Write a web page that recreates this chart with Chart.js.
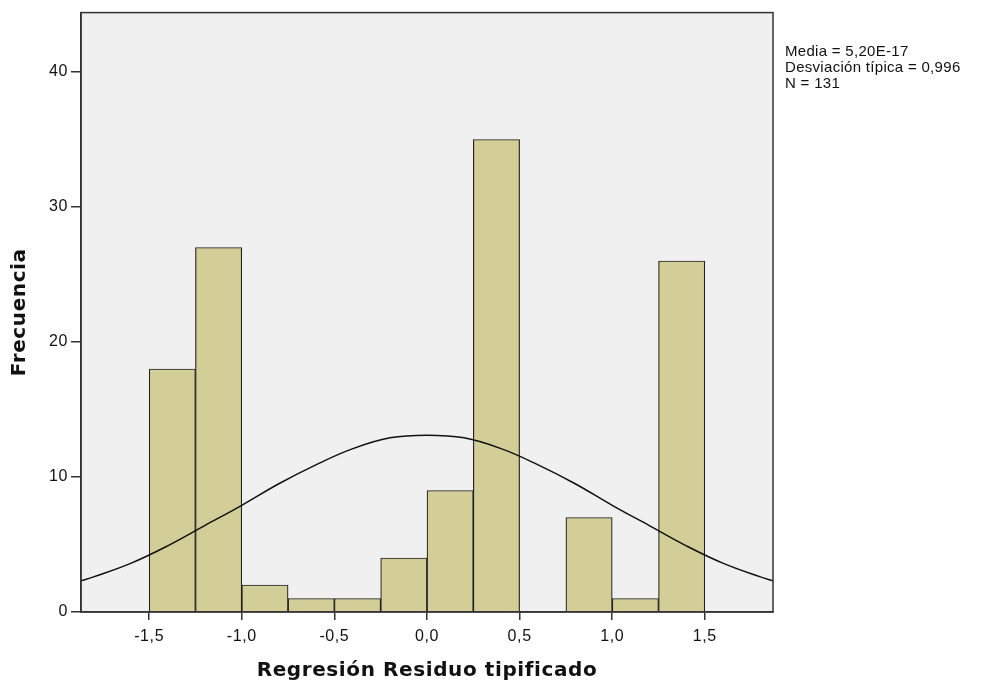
<!DOCTYPE html>
<html>
<head>
<meta charset="utf-8">
<script src="https://cdn.jsdelivr.net/npm/chart.js@4.4.1/dist/chart.umd.min.js"></script>
<style>
  html, body { margin: 0; padding: 0; background: #fff; }
  #wrap { position: relative; width: 995px; height: 685px; }
  #stats {
    position: absolute; left: 785px; top: 43px;
    font-family: "Liberation Sans", Arial, sans-serif; font-size: 15px; line-height: 16px; color: #111;
    letter-spacing: 0.3px;
  }
</style>
</head>
<body>
<div id="wrap">
  <canvas id="histChart" width="995" height="685"></canvas>
  <div id="stats">Media = 5,20E-17<br>Desviación típica = 0,996<br>N = 131</div>
</div>
<script>
// Bin centres and frequencies
const binCenters = [-1.375, -1.125, -0.875, -0.625, -0.375, -0.125, 0.125, 0.375, 0.625, 0.875, 1.125, 1.375];
const frequencies = [18, 27, 2, 1, 1, 4, 9, 35, null, 7, 1, 26];

// Normal curve
const curveX = [-1.87, -1.8, -1.6, -1.4, -1.2, -1.0, -0.8, -0.6, -0.4, -0.2, 0.0, 0.2, 0.4, 0.6, 0.8, 1.0, 1.2, 1.4, 1.6, 1.8, 1.87];
const curveY = [2.3, 2.6, 3.6, 4.9, 6.4, 7.9, 9.5, 10.9, 12.1, 12.9, 13.1, 12.9, 12.1, 10.9, 9.5, 7.9, 6.4, 4.9, 3.6, 2.6, 2.3];

const xTicks = [-1.5, -1.0, -0.5, 0.0, 0.5, 1.0, 1.5];
const yTicks = [0, 10, 20, 30, 40];

const fontFamily = '"Liberation Sans", Arial, sans-serif';
const titleFamily = '"DejaVu Sans", sans-serif';

// Plot background, frame and the slightly wide SPSS-like text
const plotFrame = {
    id: 'plotFrame',
    beforeDraw(chart) {
        const a = chart.chartArea, ctx = chart.ctx;
        ctx.save();
        ctx.fillStyle = '#f0f0f0';
        ctx.fillRect(a.left, a.top, a.right - a.left, a.bottom - a.top);
        ctx.restore();
        ctx.letterSpacing = '0.6px';   // axis titles (drawn with the grid layer)
    },
    afterDatasetsDraw(chart) {
        chart.ctx.letterSpacing = '0.8px'; // tick labels
    },
    afterDraw(chart) {
        const a = chart.chartArea, ctx = chart.ctx;
        ctx.letterSpacing = '0px';
        ctx.save();
        ctx.strokeStyle = '#333';
        ctx.lineWidth = 1.5;
        ctx.strokeRect(a.left, a.top, a.right - a.left, a.bottom - a.top);
        ctx.restore();
    }
};

const ctx = document.getElementById('histChart').getContext('2d');
new Chart(ctx, {
    data: {
        datasets: [
            {
                type: 'line',
                data: curveX.map((x, i) => ({ x: x, y: curveY[i] })),
                borderColor: '#111',
                borderWidth: 1.5,
                pointRadius: 0,
                tension: 0.4,
                fill: false,
                order: 0
            },
            {
                type: 'bar',
                data: binCenters.map((x, i) => ({ x: x, y: frequencies[i] })),
                backgroundColor: '#d3ce97',
                borderColor: '#222',
                borderWidth: 1.2,
                barPercentage: 1,
                categoryPercentage: 1,
                order: 1
            }
        ]
    },
    options: {
        responsive: false,
        animation: false,
        layout: { padding: { left: 0, top: 9, right: 222, bottom: 0 } },
        plugins: {
            legend: { display: false },
            tooltip: { enabled: false }
        },
        scales: {
            x: {
                type: 'linear',
                offset: false,
                min: -1.868,
                max: 1.868,
                afterBuildTicks: s => { s.ticks = xTicks.map(v => ({ value: v })); },
                afterFit: s => { s.height = 73; },
                grid: { offset: false, drawOnChartArea: false, drawTicks: true, tickLength: 8, color: '#333', lineWidth: 1.5 },
                border: { display: true, color: '#333', width: 1.5 },
                ticks: {
                    padding: 7,
                    color: '#111',
                    font: { family: fontFamily, size: 16 },
                    callback: v => v.toFixed(1).replace('.', ',')
                },
                title: {
                    display: true,
                    text: 'Regresión Residuo tipificado',
                    color: '#111',
                    font: { family: titleFamily, size: 20, weight: 'bold' },
                    padding: { top: 0, bottom: 2 }
                }
            },
            y: {
                min: 0,
                max: 44.4,
                afterBuildTicks: s => { s.ticks = yTicks.map(v => ({ value: v })); },
                afterFit: s => { s.width = 81; },
                grid: { drawOnChartArea: false, drawTicks: true, tickLength: 10, color: '#333', lineWidth: 1.5 },
                border: { display: true, color: '#333', width: 1.5 },
                ticks: {
                    padding: 3,
                    color: '#111',
                    font: { family: fontFamily, size: 16 }
                },
                title: {
                    display: true,
                    text: 'Frecuencia',
                    color: '#111',
                    font: { family: titleFamily, size: 20, weight: 'bold' },
                    padding: { top: 8, bottom: 0 }
                }
            }
        }
    },
    plugins: [plotFrame]
});
</script>
</body>
</html>
